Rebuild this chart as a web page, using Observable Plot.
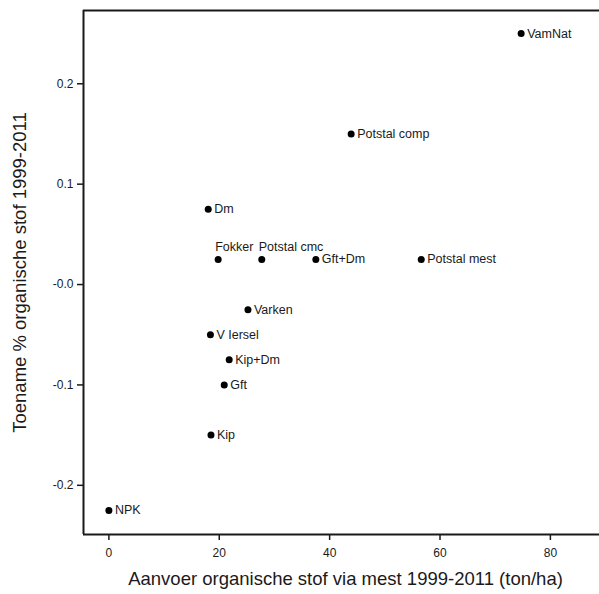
<!DOCTYPE html>
<html>
<head>
<meta charset="utf-8">
<script src="https://cdn.jsdelivr.net/npm/d3@7"></script>
<script src="https://cdn.jsdelivr.net/npm/@observablehq/plot@0.6"></script>
<style>
  html, body { margin: 0; padding: 0; background: #fff; }
  #chart svg { display: block; }
</style>
</head>
<body>
<div id="chart"></div>
<script>
// Data
const names   = ["VamNat", "Potstal comp", "Dm", "Fokker", "Potstal cmc", "Gft+Dm", "Potstal mest", "Varken", "V Iersel", "Kip+Dm", "Gft", "Kip", "NPK"];
const aanvoer = [74.7, 43.9, 18.0, 19.8, 27.7, 37.5, 56.6, 25.2, 18.4, 21.8, 20.9, 18.5, 0.0];
const toename = [0.25, 0.15, 0.075, 0.025, 0.025, 0.025, 0.025, -0.025, -0.05, -0.075, -0.1, -0.15, -0.225];

const xTicks = [0, 20, 40, 60, 80];
const xTickLabels = ["0", "20", "40", "60", "80"];
const yTicks = [-0.2, -0.1, 0, 0.1, 0.2];
const yTickLabels = ["-0.2", "-0.1", "-0.0", "0.1", "0.2"];

const xTitle = "Aanvoer organische stof via mest 1999-2011 (ton/ha)";
const yTitle = "Toename % organische stof 1999-2011";

const data = names.map((n, i) => ({name: n, x: aanvoer[i], y: toename[i]}));
const above = new Set(["Fokker", "Potstal cmc"]);
const rightLabels = data.filter(d => !above.has(d.name));
const aboveLabels = data.filter(d => above.has(d.name));

const xDomain = [-4.6, 88.9];
const yDomain = [-0.249, 0.273];
const font = "'Liberation Sans', Arial, sans-serif";
const ink = "#1a1a1a";

const chart = Plot.plot({
  width: 599,
  height: 594,
  marginLeft: 83,
  marginRight: 0,
  marginTop: 10,
  marginBottom: 60,
  style: {fontFamily: font, background: "#fff", color: ink},
  x: {domain: xDomain},
  y: {domain: yDomain},
  marks: [
    Plot.axisX({ticks: xTicks, tickFormat: d => xTickLabels[xTicks.indexOf(d)], tickSize: 6, tickPadding: 8, fontSize: 12, strokeWidth: 1.5, label: null, stroke: ink, fill: ink}),
    Plot.axisY({ticks: yTicks, tickFormat: d => yTickLabels[yTicks.indexOf(d)], tickSize: 6, tickPadding: 4, fontSize: 12, strokeWidth: 1.5, label: null, stroke: ink, fill: ink}),
    Plot.ruleX([xDomain[0]], {stroke: ink, strokeWidth: 2}),
    Plot.ruleY([yDomain[0], yDomain[1]], {stroke: ink, strokeWidth: 2}),
    Plot.dot(data, {x: "x", y: "y", r: 3.5, fill: "#000", stroke: null}),
    Plot.text(rightLabels, {x: "x", y: "y", text: "name", textAnchor: "start", dx: 6, fontSize: 12.5, fill: ink}),
    Plot.text(aboveLabels, {x: "x", y: "y", text: "name", textAnchor: "start", dx: -3, dy: -12, fontSize: 12.5, fill: ink}),
    Plot.text([xTitle], {frameAnchor: "bottom", textAnchor: "middle", dx: 4, dy: 50, fontSize: 18.5, fill: ink}),
    Plot.text([yTitle], {frameAnchor: "left", textAnchor: "middle", lineAnchor: "middle", rotate: -90, dx: -63, fontSize: 18.5, fill: ink})
  ]
});
document.getElementById("chart").appendChild(chart);
</script>
</body>
</html>
